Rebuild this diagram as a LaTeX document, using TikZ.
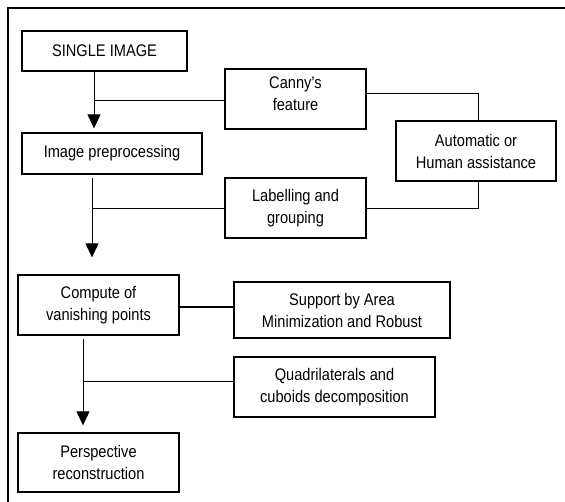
\documentclass[tikz,border=0pt]{standalone}
\usepackage{fontspec}
\setmainfont{Liberation Sans}[FakeStretch=0.87]
\usetikzlibrary{arrows.meta}

\tikzset{
  block/.style={draw, line width=1.3pt, align=center, inner sep=2pt,
    font=\fontsize{16.8}{22}\selectfont},
  link/.style={line width=1pt},
  flow/.style={link, -{Triangle[length=14pt,width=13pt]}},
}

\begin{document}
\begin{tikzpicture}[x=1pt,y=-1pt]
\useasboundingbox (0,0) rectangle (565,502);
% Frame.
\draw[line width=1.3pt] (8,502) -- (8,8) -- (565,8);

% Main column.
\node[block, minimum width=165pt, minimum height=40pt] (single) at (104.5,51) {SINGLE IMAGE};
\node[block, minimum width=180pt, minimum height=41pt] (prep) at (112,153.5) {Image preprocessing};
\node[block, minimum width=161pt, minimum height=60pt] (compute) at (98.5,305) {Compute of\\vanishing points};
\node[block, minimum width=161pt, minimum height=59pt] (persp) at (98.5,462.5) {Perspective\\reconstruction};

% Side boxes.
\node[block, minimum width=141pt, minimum height=60pt, text depth=10pt] (canny) at (295.5,99) {Canny's\\feature};
\node[block, minimum width=141pt, minimum height=60pt] (label) at (295.5,208) {Labelling and\\grouping};
\node[block, minimum width=160pt, minimum height=60pt] (auto) at (476,151) {Automatic or\\Human assistance};
\node[block, minimum width=216pt, minimum height=56pt] (support) at (342,310) {Support by Area\\Minimization and Robust};
\node[block, minimum width=201pt, minimum height=60pt] (quad) at (334.5,387) {Quadrilaterals and\\cuboids decomposition};

% Single image to preprocessing.
\coordinate (s1) at ([xshift=-10.5pt]single.south);
\draw[flow, shorten >=4pt] (s1) -- (s1 |- prep.north);
\draw[link] ([yshift=-2pt]canny.west) -- ([yshift=-2pt]canny.west -| s1);
\draw[link] ([yshift=5pt]canny.east) -| ([xshift=2pt]auto.north);
\draw[link] ([yshift=-1pt]label.east) -| ([xshift=2pt]auto.south);

% Preprocessing to vanishing points.
\coordinate (s2) at ([xshift=-20pt, yshift=-3pt]prep.south);
\draw[flow, shorten >=17pt] (s2) -- (s2 |- compute.north);
\draw[link] ([yshift=-1pt]label.west) -- ([yshift=-1pt]label.west -| s2);
\draw[line width=1.7pt] ([yshift=-2pt]compute.east) -- ([yshift=-2pt]compute.east -| support.west);

% Vanishing points to reconstruction.
\coordinate (s3) at ([xshift=-15.5pt, yshift=-3pt]compute.south);
\draw[flow, shorten >=7pt] (s3) -- (s3 |- persp.north);
\draw[link] ([yshift=5pt]quad.west) -- ([yshift=5pt]quad.west -| s3);
\end{tikzpicture}
\end{document}
